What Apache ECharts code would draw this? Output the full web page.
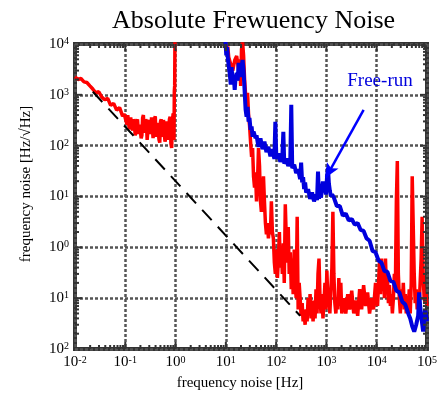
<!DOCTYPE html>
<html><head><meta charset="utf-8">
<script src="https://cdn.jsdelivr.net/npm/echarts@6/dist/echarts.min.js"></script>
<style>html,body{margin:0;padding:0;background:#fff}#c{width:440px;height:398px}</style>
</head><body><div id="c"></div>
<script>
// tick label exponents (as printed in the reference)
const xTickExp = ['-2','-1','0','1','2','3','4','5'];
const yTickExp = ['2','1','0','1','2','3','4'];

// red trace, low-frequency part (0.01 - 1 Hz)
const redLow = [[0.01,2250],[0.0115,2000],[0.0131,2100],[0.0151,1800],[0.0172,1750],[0.0198,1500],[0.0226,1300],[0.0259,1100],[0.0297,1150],[0.0341,900],[0.039,800],[0.0447,850],[0.0512,620],[0.0587,680],[0.0673,500],[0.0771,560],[0.0884,380],[0.095,420],
[0.101,450],[0.104,300],[0.108,260],[0.112,400],[0.116,380],[0.12,210],[0.124,240],[0.128,360],[0.133,340],[0.137,220],[0.142,200],[0.147,330],[0.152,300],[0.157,160],[0.163,180],[0.169,300],[0.175,330],[0.181,200],[0.187,170],[0.193,260],[0.2,280],[0.207,140],[0.214,160],[0.221,350],[0.229,400],[0.237,210],[0.245,180],[0.254,330],[0.263,300],[0.272,130],[0.281,140],[0.291,290],[0.301,320],[0.311,170],[0.322,190],[0.333,360],[0.345,350],[0.357,140],[0.369,150],[0.382,340],[0.395,380],[0.409,150],[0.423,160],[0.438,280],[0.453,300],[0.469,130],[0.485,115],[0.502,300],[0.519,330],[0.537,150],[0.556,170],[0.575,320],[0.595,350],[0.616,120],[0.637,140],[0.659,300],[0.682,280],[0.706,130],[0.73,120],[0.755,330],[0.781,370],[0.808,110],[0.836,90],[0.865,300],[0.895,430],[0.91,180],[0.93,130],[0.945,1200],[0.96,1500],[0.975,20000]];

// red trace, high-frequency part (10 Hz - 100 kHz)
const redHigh = [[10,10000],[10.4,7000],[10.9,9000],[11.4,5500],[12.5,4000],[13.7,3000],[15,4800],[16.4,5800],[18,3000],[18.8,5000],[19.7,1500],[20.5,8000],[21.5,11000],[22.5,6000],[23.6,2000],[24.7,1000],[25.8,700],[27,1100],[28.3,400],[29.6,250],[31,120],[32.5,60],[34,90],[35.5,25],[37.2,15],[38.9,30],[40.7,8],[42.6,20],[44.6,90],[46.7,40],[48.8,8],[50.9,5],[53.5,12],[56,25],[58.5,8],[61.2,3],[64.1,1.8],[67,3],[70.2,1.5],[73.5,2.5],[76.9,1.8],[80.4,8],[84.2,2],[88.1,1.5],[92.2,0.5],[96.4,0.3],[101,0.9],[106,0.25],[111,0.6],[116,2],[121,0.4],[127,1.0],[133,0.3],[139,1.2],[145,0.2],[152,7],[159,1.5],[166,0.5],[174,2.5],[182,0.3],[191,0.8],[200,0.15],[209,0.6],[218,0.12],[229,0.9],[239,0.2],[250,0.1],[262,4],[274,0.06],[287,0.2],[300,0.1],[314,0.045],[329,0.08],[344,0.035],[360,0.05],[377,0.03],[395,0.06],[413,0.035],[432,0.1],[452,0.05],[473,0.12],[494,0.04],[518,0.09],[542,0.035],[567,0.07],[594,0.04],[621,0.15],[650,0.05],[680,0.3],[712,0.6],[745,0.1],[780,0.05],[816,0.12],[853,0.04],[893,0.08],[935,0.2],[977,0.06],[1020,0.35],[1071,0.08],[1120,0.12],[1170,0.05],[1227,0.15],[1285,0.4],[1344,5],[1406,0.3],[1470,0.08],[1540,0.05],[1610,0.1],[1686,0.06],[1765,0.25],[1846,0.07],[1932,0.2],[2020,0.05],[2215,0.1],[2426,0.05],[2654,0.12],[2900,0.06],[3185,0.14],[3490,0.05],[3820,0.09],[4180,0.045],[4580,0.15],[5010,0.06],[5490,0.18],[6010,0.07],[6590,0.13],[7210,0.05],[7900,0.1],[8650,0.06],[9470,0.2],[10380,0.07],[11360,0.5],[11900,0.12],[12440,0.6],[13000,0.15],[13620,0.3],[14260,0.1],[14930,0.6],[15620,0.15],[16330,0.25],[17100,0.08],[17880,0.18],[18720,0.07],[19590,0.12],[20500,0.05],[21450,0.1],[22450,0.3],[23500,0.15],[24590,8],[25700,50],[26900,0.3],[28200,0.1],[29500,0.05],[30900,0.15],[32300,0.07],[33800,0.2],[35400,0.06],[37000,0.12],[38700,0.05],[40500,0.1],[42400,0.06],[44400,0.15],[46400,0.05],[48600,0.2],[50800,25],[53200,27],[55700,0.3],[58200,0.08],[61000,0.15],[63800,0.06],[66700,0.1],[69800,0.07],[73100,0.2],[76500,0.6],[80000,4],[83800,0.3],[87700,0.1],[91800,0.08],[96000,0.12],[100000,0.07]];

// blue trace: free-run
const blueFree = [[9.8,12000],[10.2,6000],[10.6,8700],[11,5000],[11.4,4860],[12,2500],[12.5,1600],[13,3500],[13.7,1720],[14.3,2500],[15,1250],[15.5,2000],[16.4,2700],[17.2,1900],[18,4240],[19,2800],[19.7,2250],[20.5,3500],[21.5,4860],[22.5,3000],[23.6,3090],[24.7,508],[25.8,371],[27,582],[28.3,296],[29.5,350],[31,206],[32.5,240],[34,150],[35.5,190],[37.2,180],[39,140],
[40.7,160],[44.6,95],[48.8,140],[53.5,85],[58.5,120],[64.1,75],[70.2,95],[76.9,62],[84.2,85],[92.2,55],[96.4,296],[101,55],[111,70],[121,48],[133,62],[139,188],[145,44],[159,56],[174,40],[191,50],[200,637],[209,36],[229,42],[250,29],[274,34],[300,22],[314,46.4],[329,19],[344,24],[360,14],[377,19],[395,12],[432,14],[473,9],[518,12],[567,8],[621,11],[650,8.5],[680,30.9],[712,9],[745,13],[780,9.5],[816,15],[853,19.7],[893,12],[935,16],[977,10.9],[1030,25],[1071,37],[1120,18],[1170,13],[1227,10],[1300,11],[1406,9.5],[1610,6.5],[1846,6.5],[2115,4.2],[2426,4.6],[2780,3.4],[3185,3.6],[3650,2.8],[4180,3.0],[4790,2.2],[5490,2.1],[6295,1.5],[7210,1.35],[8260,0.85],[9470,0.8],[10860,0.55],[12440,0.5],[14260,0.34],[16330,0.33],[18720,0.22],[21450,0.21],[24590,0.14],[28200,0.13],[32300,0.085],[37000,0.075],[42400,0.05],[46400,0.04],[50800,0.028],[55700,0.022],[61000,0.03],[66700,0.045],[69800,0.13],[73100,0.07],[76500,0.045],[83800,0.022],[91800,0.06],[100000,0.035]];

// dashed 1/f reference line end points
const refLine = [[0.0226,1150],[300,0.045]];
// annotation arrow (data coordinates)
const arrowFrom = [5490,508];
const arrowTo = [977,23.6];

// tick decoration
const minorMult = [2,3,4,5,6,7,8,9];
const xDecades = [0.01,0.1,1,10,100,1000,10000];
const yDecades = [0.01,0.1,1,10,100,1000];

const SERIF = '"Liberation Serif","DejaVu Serif",serif';

const xTicks = [], yTicks = [];
xDecades.forEach((d, i) => { if (i > 0) xTicks.push([d, 1, 1]); minorMult.forEach(m => xTicks.push([d * m, 1, 0])); });
yDecades.forEach((d, i) => { if (i > 0) yTicks.push([1, d, 1]); minorMult.forEach(m => yTicks.push([1, d * m, 0])); });

const tickStyle = {stroke: '#333', lineWidth: 2};
function xTickItem(params, api) {
  const cs = params.coordSys;
  const x = api.coord([api.value(0), 1])[0];
  const L = api.value(2) ? 7 : 4;
  const b = cs.y + cs.height;
  return {type: 'group', children: [
    {type: 'line', shape: {x1: x, y1: b, x2: x, y2: b - L}, style: tickStyle},
    {type: 'line', shape: {x1: x, y1: cs.y, x2: x, y2: cs.y + L}, style: tickStyle}
  ]};
}
function yTickItem(params, api) {
  const cs = params.coordSys;
  const y = api.coord([1, api.value(1)])[1];
  const L = api.value(2) ? 7 : 4;
  const r = cs.x + cs.width;
  return {type: 'group', children: [
    {type: 'line', shape: {x1: cs.x, y1: y, x2: cs.x + L, y2: y}, style: tickStyle},
    {type: 'line', shape: {x1: r, y1: y, x2: r - L, y2: y}, style: tickStyle}
  ]};
}

const rich = {
  b: {fontSize: 15, fontFamily: SERIF, color: '#000', lineHeight: 15, verticalAlign: 'bottom'},
  s: {fontSize: 10, fontFamily: SERIF, color: '#000', lineHeight: 10, verticalAlign: 'top'}
};
const gridLine = {show: true, lineStyle: {color: '#555', width: 2.5, type: [3, 2]}};

const chart = echarts.init(document.getElementById('c'), null, {renderer: 'canvas'});
chart.setOption({
  animation: false,
  backgroundColor: '#fff',
  title: {text: 'Absolute Frewuency Noise', left: 107, top: 3,
    textStyle: {fontFamily: SERIF, fontSize: 26, fontWeight: 'normal', color: '#000'}},
  grid: {left: 75, right: 10, top: 44, bottom: 49, show: true, borderColor: '#333', borderWidth: 4},
  xAxis: {type: 'log', logBase: 10, min: 0.01, max: 100000,
    axisLine: {show: false}, axisTick: {show: false}, splitLine: gridLine,
    axisLabel: {margin: 6, formatter: v => '{b|10}{s|' + xTickExp[Math.round(Math.log10(v)) + 2] + '}', rich: rich}},
  yAxis: {type: 'log', logBase: 10, min: 0.01, max: 10000,
    axisLine: {show: false}, axisTick: {show: false}, splitLine: gridLine,
    axisLabel: {margin: 6, formatter: v => '{b|10}{s|' + yTickExp[Math.round(Math.log10(v)) + 2] + '}', rich: rich}},
  graphic: [
    {type: 'text', x: 26, y: 184, rotation: Math.PI / 2,
      style: {text: 'frequency noise [Hz/√Hz]', font: '15px ' + SERIF, fill: '#000', align: 'center', verticalAlign: 'middle'}},
    {type: 'text', x: 240, y: 383,
      style: {text: 'frequency noise [Hz]', font: '15px ' + SERIF, fill: '#000', align: 'center', verticalAlign: 'middle'}},
    {type: 'text', x: 380, y: 81, z: 10,
      style: {text: 'Free-run', font: '19px ' + SERIF, fill: '#0000dd', align: 'center', verticalAlign: 'middle'}}
  ],
  series: [
    {type: 'line', data: redLow, showSymbol: false, symbol: 'none', lineStyle: {color: '#ff0000', width: 3.5}, z: 2},
    {type: 'line', data: redHigh, showSymbol: false, symbol: 'none', lineStyle: {color: '#ff0000', width: 3.5}, z: 2},
    {type: 'line', data: blueFree, showSymbol: false, symbol: 'none', lineStyle: {color: '#0000dd', width: 4}, z: 3,
      markLine: {silent: true, symbol: ['none', 'arrow'], symbolSize: [10, 14], label: {show: false},
        lineStyle: {color: '#0000ff', width: 2.5, type: 'solid'},
        data: [[{coord: arrowFrom}, {coord: arrowTo}]]}},
    {type: 'line', data: refLine, showSymbol: false, symbol: 'none', lineStyle: {color: '#000', width: 2, type: [14, 9]}, z: 4},
    {type: 'custom', data: xTicks, renderItem: xTickItem, silent: true, clip: false, z: 6},
    {type: 'custom', data: yTicks, renderItem: yTickItem, silent: true, clip: false, z: 6}
  ]
});
</script></body></html>
